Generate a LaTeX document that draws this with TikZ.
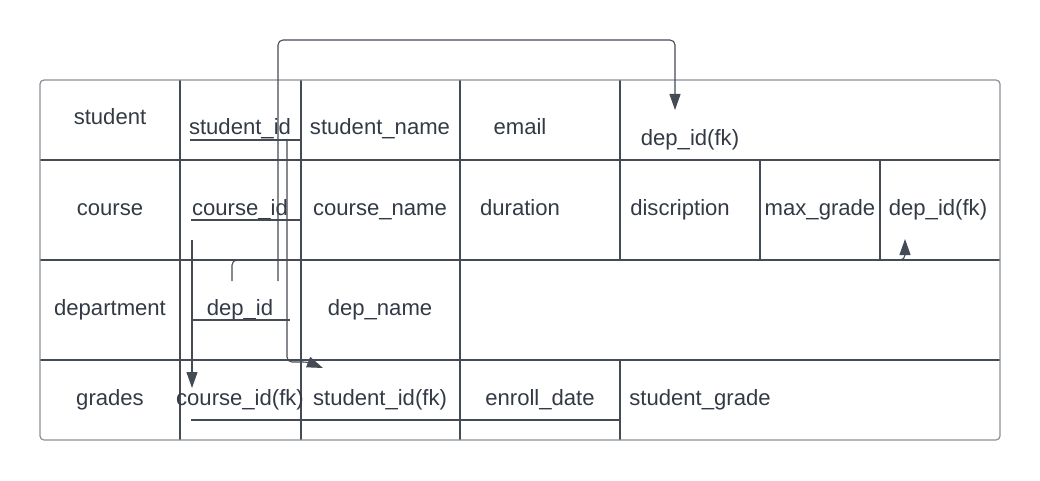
\documentclass[tikz,border=0pt]{standalone}
\usepackage{fontspec}
\setmainfont{Liberation Sans}
\usetikzlibrary{arrows.meta}
\definecolor{ink}{HTML}{333A45}
\definecolor{gridline}{HTML}{454B55}
\definecolor{frame}{HTML}{8A8F96}
\begin{document}
\begin{tikzpicture}[x=1pt,y=-1pt,
  lbl/.style={anchor=base,inner sep=0pt,text=ink,font=\fontsize{22.1}{26}\selectfont},
  cellline/.style={draw=gridline,line width=1.1pt},
  uline/.style={draw=gridline,line width=1.1pt},
  link/.style={draw=gridline,line width=1.1pt,rounded corners=5pt,
    -{Triangle[length=16pt,width=11pt]}}]
\useasboundingbox (0,0) rectangle (1040,481);

% table grid
\draw[cellline] (40,160) -- (1000,160);
\draw[cellline] (40,260) -- (1000,260);
\draw[cellline] (40,360) -- (1000,360);
\draw[cellline] (180,80) -- (180,440);
\draw[cellline] (301,80) -- (301,440);
\draw[cellline] (460,80) -- (460,440);
\draw[cellline] (620,80) -- (620,260);
\draw[cellline] (620,360) -- (620,440);
\draw[cellline] (760,160) -- (760,260);
\draw[cellline] (880,160) -- (880,260);
\draw[draw=frame,line width=1.2pt,rounded corners=4pt] (40,80) rectangle (1000,440);

% student row
\node[lbl] (student) at (110,125) {student};
\node[lbl] (stid) at (240,135) {student\_id};
\node[lbl] (stname) at (380,135) {student\_name};
\node[lbl] (email) at (520,135) {email};
\node[lbl] (stdep) at (690,146) {dep\_id(fk)};

% course row
\node[lbl] (course) at (110,215) {course};
\node[lbl] (crid) at (240,215) {course\_id};
\node[lbl] (crname) at (380,215) {course\_name};
\node[lbl] (duration) at (520,215) {duration};
\node[lbl] (descr) at (680,215) {discription};
\node[lbl] (maxgrade) at (820,215) {max\_grade};
\node[lbl] (crdep) at (938,215) {dep\_id(fk)};

% department row
\node[lbl] (department) at (110,315) {department};
\node[lbl] (depid) at (240,315) {dep\_id};
\node[lbl] (depname) at (380,315) {dep\_name};

% grades row
\node[lbl] (grades) at (110,405) {grades};
\node[lbl] (grcourse) at (240,405) {course\_id(fk)};
\node[lbl] (grstudent) at (380,405) {student\_id(fk)};
\node[lbl] (enroll) at (540,405) {enroll\_date};
\node[lbl] (stgrade) at (700,405) {student\_grade};

% key underlines
\draw[uline] (190,140) -- (301,140);
\draw[uline] (191,220) -- (301,220);
\draw[uline] (191,320) -- (290,320);
\draw[uline] (191,420) -- (620,420);

% connector end points
\coordinate (depA) at (278,281);
\coordinate (depB) at (232,281);
\coordinate (stkey) at (287,139);
\coordinate (crkey) at (192,240);
\coordinate (toStDep) at (675,110);
\coordinate (toCrDep) at (905,239);
\coordinate (toGrSt) at (323,368);
\coordinate (toGrCr) at (192,388);

% foreign key links
\draw[link] (depA) -- (278,40) -- (675,40) -- (toStDep);
\draw[link] (depB) -- (232,260) -- (905,260) -- (toCrDep);
\draw[link] (stkey) -- (287,362) -- (308,362) -- (toGrSt);
\draw[link] (crkey) -- (toGrCr);
\end{tikzpicture}
\end{document}
